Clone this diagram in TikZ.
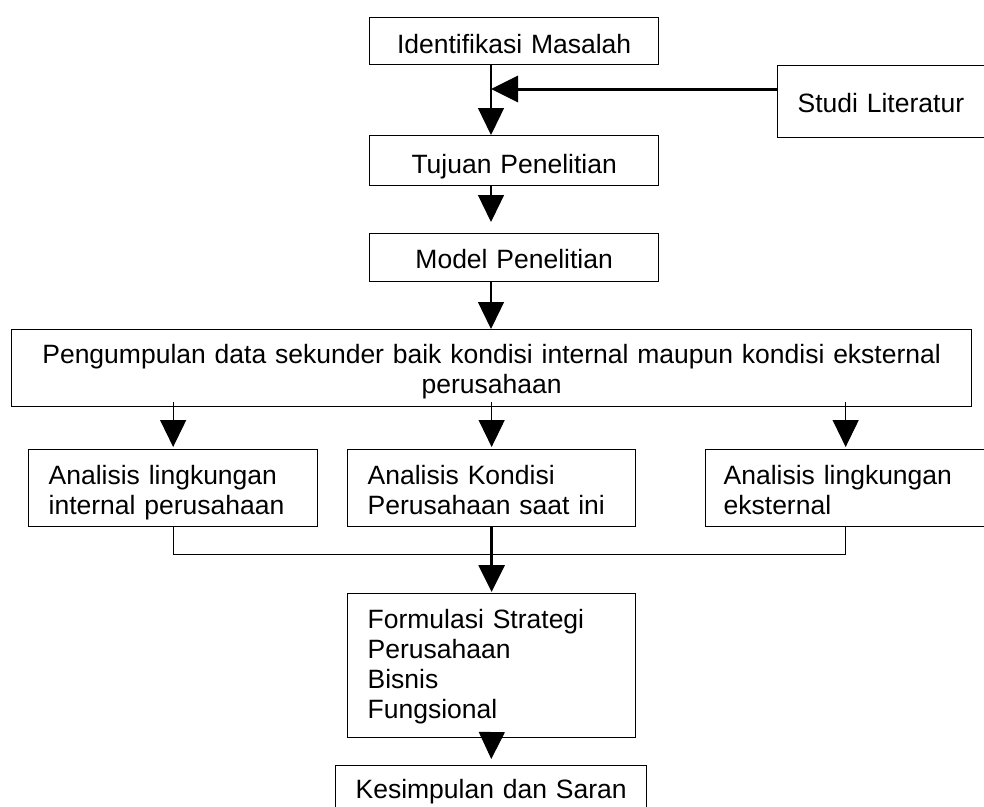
\documentclass[tikz,border=0pt]{standalone}
\usepackage{fontspec}
\setmainfont{Liberation Sans}
\usetikzlibrary{arrows.meta,calc}
\tikzset{stagebox/.style={draw,line width=1.3pt,anchor=north west,inner xsep=0pt,inner ysep=0pt,align=center,font=\fontsize{26.5}{30}\selectfont}, leftbox/.style={align=left,inner xsep=20pt}, dims/.style n args={3}{text width=#1,text height=#2,text depth=#3}, flow/.style={-{Triangle[length=27pt,width=26pt]},line width=1.3pt}, bold/.style={line width=3pt}}

\begin{document}
\begin{tikzpicture}[x=1pt,y=-1pt]
\useasboundingbox (0,0) rectangle (984,806);
\node[stagebox,dims={289pt}{36pt}{11pt}] (idf) at (369,17) {Identifikasi Masalah};
\node[stagebox,leftbox,dims={168pt}{47pt}{25pt}] (stl) at (777,65) {Studi Literatur};
\node[stagebox,dims={289pt}{38pt}{12pt}] (tuj) at (369,135) {Tujuan Penelitian};
\node[stagebox,dims={289pt}{35pt}{13pt}] (mod) at (369,233) {Model Penelitian};
\node[stagebox,dims={960pt}{34pt}{43pt}] (pgm) at (11,329) {Pengumpulan data sekunder baik kondisi internal maupun kondisi eksternal\\perusahaan};
\node[stagebox,leftbox,dims={249pt}{35pt}{42pt}] (lin) at (28,449) {Analisis lingkungan\\internal perusahaan};
\node[stagebox,leftbox,dims={248pt}{35pt}{42pt}] (lkp) at (347,449) {Analisis Kondisi\\Perusahaan saat ini};
\node[stagebox,leftbox,inner xsep=18pt,dims={244pt}{35pt}{42pt}] (lex) at (705,449) {Analisis lingkungan\\eksternal};
\node[stagebox,leftbox,dims={248pt}{35pt}{109pt}] (frm) at (347,593) {Formulasi Strategi\\Perusahaan\\Bisnis\\Fungsional};
\node[stagebox,dims={311pt}{33pt}{44pt}] (kes) at (335,765) {Kesimpulan dan Saran};
\coordinate (spine) at (491,0);
\coordinate (meet) at (491,89);
\draw[flow] (idf.south -| spine) -- (tuj.north -| spine);
\draw[flow,bold] (stl.west |- meet) -- (meet);
\draw[flow,shorten >=11pt] (tuj.south -| spine) -- (mod.north -| spine);
\draw[flow] (mod.south -| spine) -- (pgm.north -| spine);
\foreach \part in {lin,lkp,lex}
  \draw[flow,shorten <=-5pt,shorten >=2pt] (pgm.south -| \part.north) -- (\part.north);
\draw[line width=1.3pt] (lin.south) -- ++(0,27) -| (lex.south);
\draw[flow,bold,shorten >=1pt] (lkp.south) -- (frm.north);
\draw[flow,shorten >=6pt] (frm.south) -- (kes.north);
\end{tikzpicture}
\end{document}
